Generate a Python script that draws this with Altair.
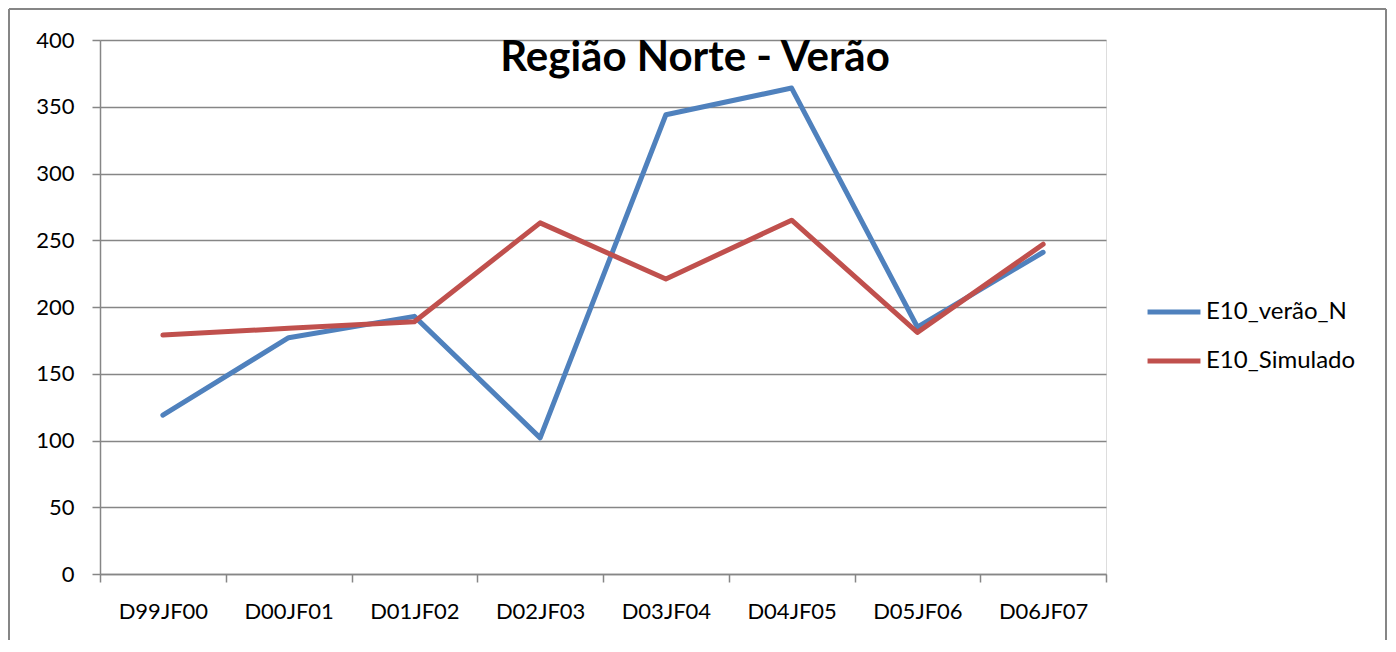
import altair as alt
import pandas as pd

TITLE = "Região Norte - Verão"
categories = ["D99JF00", "D00JF01", "D01JF02", "D02JF03", "D03JF04", "D04JF05", "D05JF06", "D06JF07"]
series_names = ["E10_verão_N", "E10_Simulado"]
verao_n = [119, 177, 193, 102, 344, 364, 185, 241]
simulado = [179, 184, 189, 263, 221, 265, 181, 247]
colors = ["#4F81BD", "#C0504D"]
y_ticks = [0, 50, 100, 150, 200, 250, 300, 350, 400]

rows = []
for name, vals in zip(series_names, [verao_n, simulado]):
    for c, v in zip(categories, vals):
        rows.append({"cat": c, "value": v, "series": name})
df = pd.DataFrame(rows)

FONT = "Lato"
GRAY = "#868686"

lines = alt.Chart(df).mark_line(strokeWidth=5, strokeCap="round", strokeJoin="round").encode(
    x=alt.X("cat:N", sort=categories, title=None,
            scale=alt.Scale(type="band", paddingInner=0, paddingOuter=0),
            axis=alt.Axis(labelAngle=0, labelFont=FONT, labelFontSize=22, labelColor="black",
                          labelPadding=19, tickBand="extent", tickSize=8, tickColor=GRAY,
                          tickWidth=1.5, domainColor=GRAY, domainWidth=1.5, grid=False)),
    y=alt.Y("value:Q", title=None, scale=alt.Scale(domain=[0, 400], nice=False),
            axis=alt.Axis(values=y_ticks, labelFont=FONT, labelFontSize=22, labelColor="black",
                          labelPadding=18, tickSize=8, tickColor=GRAY, tickWidth=1.5,
                          domainColor=GRAY, domainWidth=1.5, gridColor=GRAY, gridWidth=1.5)),
    color=alt.Color("series:N", sort=series_names,
                    scale=alt.Scale(domain=series_names, range=colors),
                    legend=alt.Legend(title=None, orient="none", legendX=1045, legendY=252,
                                      symbolType="stroke", symbolSize=2800, symbolStrokeWidth=5,
                                      labelFont=FONT, labelFontSize=24, labelColor="black",
                                      labelOffset=3, rowPadding=9, clipHeight=40)),
)

title = alt.Chart(pd.DataFrame({"t": [TITLE]})).mark_text(
    font=FONT, fontSize=42, fontWeight="bold", color="black", baseline="alphabetic", align="center"
).encode(text="t:N", x=alt.value(595), y=alt.value(31))

one = pd.DataFrame({"a": [0]})
frame_left = alt.Chart(one).mark_rule(stroke=GRAY, strokeWidth=2, clip=False).encode(
    x=alt.value(-91), y=alt.value(-31), y2=alt.value(700))
frame_right = alt.Chart(one).mark_rule(stroke=GRAY, strokeWidth=2, clip=False).encode(
    x=alt.value(1286), y=alt.value(-31), y2=alt.value(700))
frame_top = alt.Chart(one).mark_rule(stroke=GRAY, strokeWidth=2, clip=False).encode(
    x=alt.value(-91), x2=alt.value(1286), y=alt.value(-31))

chart = alt.layer(frame_left, frame_right, frame_top, lines, title).properties(
    width=1006, height=534,
    autosize=alt.AutoSizeParams(type="none"),
    padding={"left": 92, "top": 32, "right": 282, "bottom": 66},
).configure_view(stroke=None).configure(background="white")

chart.save("out.html", embed_options={"renderer": "svg", "actions": False})
